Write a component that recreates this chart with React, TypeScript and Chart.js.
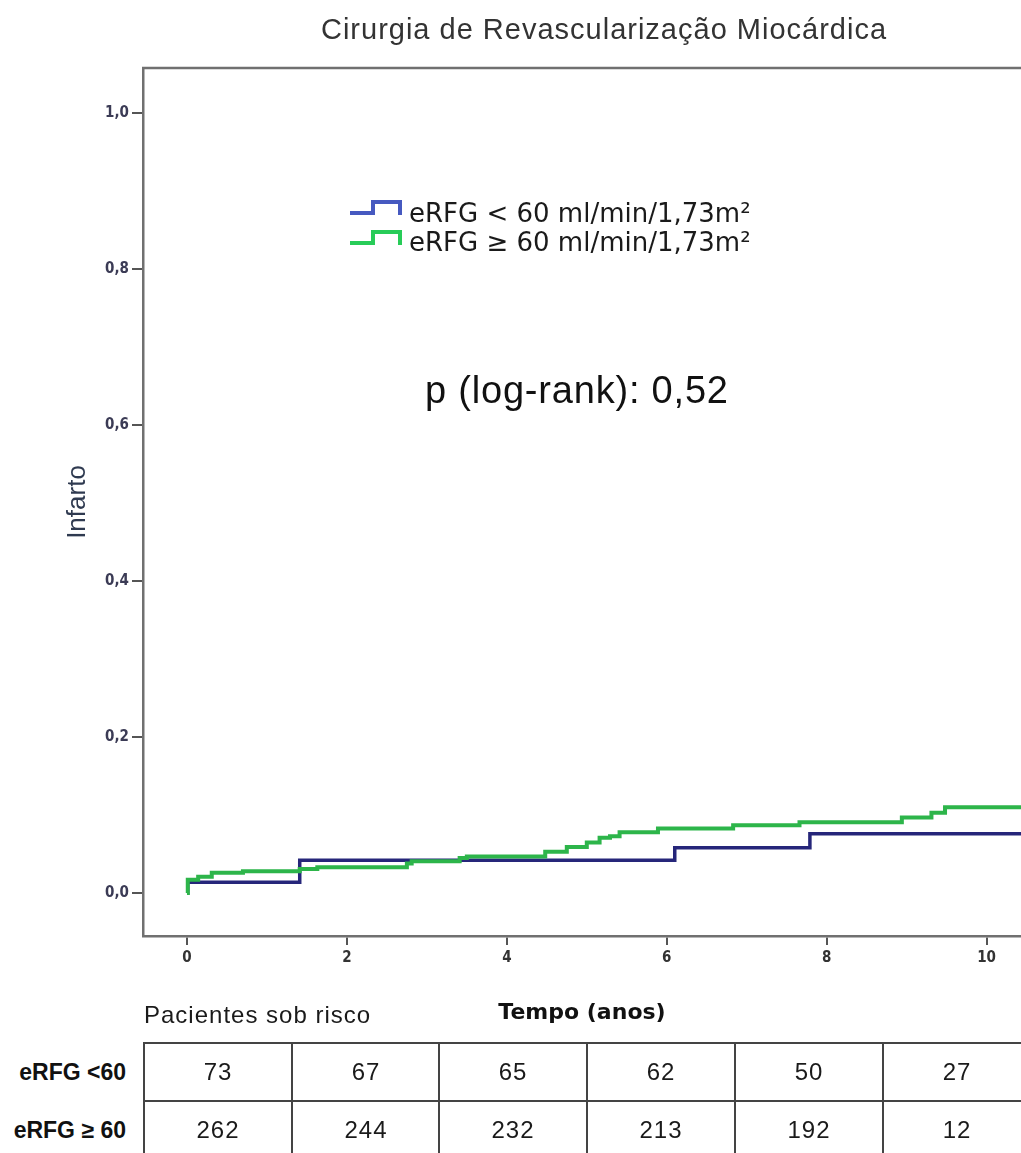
import React, { useEffect, useRef } from "react";
import { Chart, registerables } from "chart.js";

Chart.register(...registerables);

const chartTitle = "Cirurgia de Revascularização Miocárdica";
const yAxisTitle = "Infarto";
const xAxisTitle = "Tempo (anos)";
const pValueText = "p (log-rank): 0,52";
const seriesLabels = ["eRFG < 60 ml/min/1,73m²", "eRFG ≥ 60 ml/min/1,73m²"];

const xTicks = [0, 2, 4, 6, 8, 10];
const yTicks = [0, 0.2, 0.4, 0.6, 0.8, 1.0];

// eRFG < 60 (cumulative incidence, step times in years)
const lowTimes = [0, 0.01, 1.41, 6.1, 7.79, 11];
const lowValues = [0, 0.014, 0.042, 0.058, 0.076, 0.076];

// eRFG >= 60
const highTimes = [0, 0.01, 0.14, 0.31, 0.7, 1.41, 1.63, 2.75, 2.81, 3.41, 3.5, 4.48, 4.75, 5.0, 5.16, 5.29, 5.41, 5.89, 6.83, 7.66, 8.94, 9.31, 9.48, 11];
const highValues = [0, 0.017, 0.021, 0.026, 0.028, 0.031, 0.033, 0.038, 0.041, 0.045, 0.047, 0.053, 0.059, 0.065, 0.071, 0.073, 0.078, 0.083, 0.087, 0.091, 0.097, 0.103, 0.11, 0.11];

const riskTitle = "Pacientes sob risco";
const riskRowLabels = ["eRFG <60", "eRFG ≥ 60"];
const riskLow = [73, 67, 65, 62, 50, 27];
const riskHigh = [262, 244, 232, 213, 192, 12];

const BLUE = "#26267a";
const GREEN = "#2db54a";
const BLUE_KEY = "#4659c0";
const GREEN_KEY = "#28cc58";

const overlayPlugin = {
  id: "overlay",
  afterDraw(chart: any) {
    const { ctx, chartArea } = chart;
    ctx.save();
    // top frame
    ctx.strokeStyle = "#707070";
    ctx.lineWidth = 2.5;
    ctx.beginPath();
    ctx.moveTo(chartArea.left - 1, chartArea.top);
    ctx.lineTo(chartArea.right, chartArea.top);
    ctx.stroke();

    // title
    ctx.fillStyle = "#333333";
    ctx.font = '29px "Liberation Sans", Arial, sans-serif';
    ctx.textAlign = "center";
    ctx.textBaseline = "alphabetic";
    (ctx as any).letterSpacing = "1px";
    ctx.fillText(chartTitle, 604, 39);

    // p-value
    ctx.fillStyle = "#111111";
    ctx.font = '38px "Liberation Sans", Arial, sans-serif';
    (ctx as any).letterSpacing = "0.8px";
    ctx.textAlign = "left";
    ctx.fillText(pValueText, 425, 403);
    (ctx as any).letterSpacing = "0px";

    // legend
    const keyColors = [BLUE_KEY, GREEN_KEY];
    seriesLabels.forEach((label, i) => {
      const yLow = 213 + 30 * i;
      ctx.strokeStyle = keyColors[i];
      ctx.lineWidth = 4;
      ctx.lineJoin = "miter";
      ctx.lineCap = "butt";
      ctx.beginPath();
      ctx.moveTo(350, yLow);
      ctx.lineTo(373, yLow);
      ctx.lineTo(373, yLow - 11);
      ctx.lineTo(400, yLow - 11);
      ctx.lineTo(400, yLow + 2);
      ctx.stroke();
      ctx.fillStyle = "#1a1a1a";
      ctx.font = '26px "DejaVu Sans", sans-serif';
      ctx.textAlign = "left";
      ctx.textBaseline = "alphabetic";
      ctx.fillText(label, 409, 222 + 29 * i);
    });
    ctx.restore();
  },
};

export default function App() {
  const canvasRef = useRef<HTMLCanvasElement | null>(null);

  useEffect(() => {
    if (!canvasRef.current) return;
    const chart = new Chart(canvasRef.current, {
      type: "line",
      data: {
        datasets: [
          {
            label: seriesLabels[1],
            data: highTimes.map((t, i) => ({ x: t, y: highValues[i] })),
            borderColor: GREEN,
            borderWidth: 4,
            stepped: "before",
            pointRadius: 0,
            fill: false,
          },
          {
            label: seriesLabels[0],
            data: lowTimes.map((t, i) => ({ x: t, y: lowValues[i] })),
            borderColor: BLUE,
            borderWidth: 3.5,
            stepped: "before",
            pointRadius: 0,
            fill: false,
          },
        ],
      },
      options: {
        animation: false,
        responsive: false,
        devicePixelRatio: 1,
        layout: { padding: { top: 68, left: 0, right: 0, bottom: 0 } },
        plugins: {
          legend: { display: false },
          tooltip: { enabled: false },
          title: { display: false },
        },
        scales: {
          x: {
            type: "linear",
            min: -0.55,
            max: 10.43,
            afterBuildTicks: (scale: any) => {
              scale.ticks = xTicks.map((v) => ({ value: v }));
            },
            afterFit: (scale: any) => {
              scale.height = 104;
            },
            grid: {
              display: true,
              drawOnChartArea: false,
              drawTicks: true,
              tickLength: 9,
              color: "#555555",
              lineWidth: 2,
            },
            border: { display: true, color: "#707070", width: 2.5 },
            ticks: {
              autoSkip: false,
              maxRotation: 0,
              padding: 4,
              color: "#333333",
              font: { family: '"Liberation Sans Narrow", "DejaVu Sans Condensed", sans-serif', size: 15, weight: "bold" },
              callback: (v: any) => String(v),
            },
            title: {
              display: true,
              text: xAxisTitle,
              color: "#111111",
              font: { family: '"DejaVu Sans", sans-serif', size: 22, weight: "bold" },
              padding: { top: 0, bottom: 14 },
            },
          },
          y: {
            type: "linear",
            min: -0.055,
            max: 1.058,
            afterBuildTicks: (scale: any) => {
              scale.ticks = yTicks.map((v) => ({ value: v }));
            },
            afterFit: (scale: any) => {
              scale.width = 143;
            },
            grid: {
              display: true,
              drawOnChartArea: false,
              drawTicks: true,
              tickLength: 11,
              color: "#555555",
              lineWidth: 2,
            },
            border: { display: true, color: "#707070", width: 2.5 },
            ticks: {
              autoSkip: false,
              padding: 3,
              color: "#3b3b55",
              font: { family: '"Liberation Sans Narrow", "DejaVu Sans Condensed", sans-serif', size: 15, weight: "bold" },
              callback: (v: any) => Number(v).toFixed(1).replace(".", ","),
            },
            title: {
              display: true,
              text: yAxisTitle,
              color: "#2f3a50",
              font: { family: '"Liberation Sans", Arial, sans-serif', size: 26 },
              padding: { top: 62, bottom: 0 },
            },
          },
        },
      },
      plugins: [overlayPlugin],
    } as any);
    return () => chart.destroy();
  }, []);

  const colLefts = [144, 292, 439, 587, 735, 883];
  const colWidth = 148;
  const rowTops = [1043, 1101];
  const rowHeight = 58;
  const cellFont = '"Liberation Sans", Arial, sans-serif';

  return (
    <div
      style={{
        position: "absolute",
        left: 0,
        top: 0,
        width: 1021,
        height: 1153,
        overflow: "hidden",
        background: "#ffffff",
        fontFamily: cellFont,
      }}
    >
      <canvas ref={canvasRef} width={1021} height={1040} style={{ display: "block", position: "absolute", left: 0, top: 0 }} />
      <div
        style={{
          position: "absolute",
          left: 144,
          top: 1000,
          fontSize: 24,
          letterSpacing: "1px",
          color: "#1a1a1a",
          lineHeight: "30px",
          whiteSpace: "nowrap",
        }}
      >
        {riskTitle}
      </div>
      {/* horizontal lines */}
      {rowTops.map((t, i) => (
        <div key={"h" + i} style={{ position: "absolute", left: 143, top: t - 1, width: 900, height: 2, background: "#444444" }} />
      ))}
      {/* vertical lines */}
      {colLefts.map((l, i) => (
        <div key={"v" + i} style={{ position: "absolute", left: l - 1, top: 1043, width: 2, height: 120, background: "#444444" }} />
      ))}
      {/* row labels */}
      {riskRowLabels.map((lab, r) => (
        <div
          key={"rl" + r}
          style={{
            position: "absolute",
            left: 0,
            width: 126,
            top: rowTops[r],
            height: rowHeight,
            lineHeight: rowHeight + "px",
            textAlign: "right",
            fontWeight: "bold",
            fontSize: 23,
            color: "#111111",
            whiteSpace: "nowrap",
          }}
        >
          {lab}
        </div>
      ))}
      {[riskLow, riskHigh].map((row, r) =>
        row.map((v, c) => (
          <div
            key={"c" + r + "-" + c}
            style={{
              position: "absolute",
              left: colLefts[c],
              width: colWidth,
              top: rowTops[r],
              height: rowHeight,
              lineHeight: rowHeight + "px",
              textAlign: "center",
              fontSize: 24,
              letterSpacing: "1px",
              color: "#1a1a1a",
            }}
          >
            {v}
          </div>
        ))
      )}
    </div>
  );
}
